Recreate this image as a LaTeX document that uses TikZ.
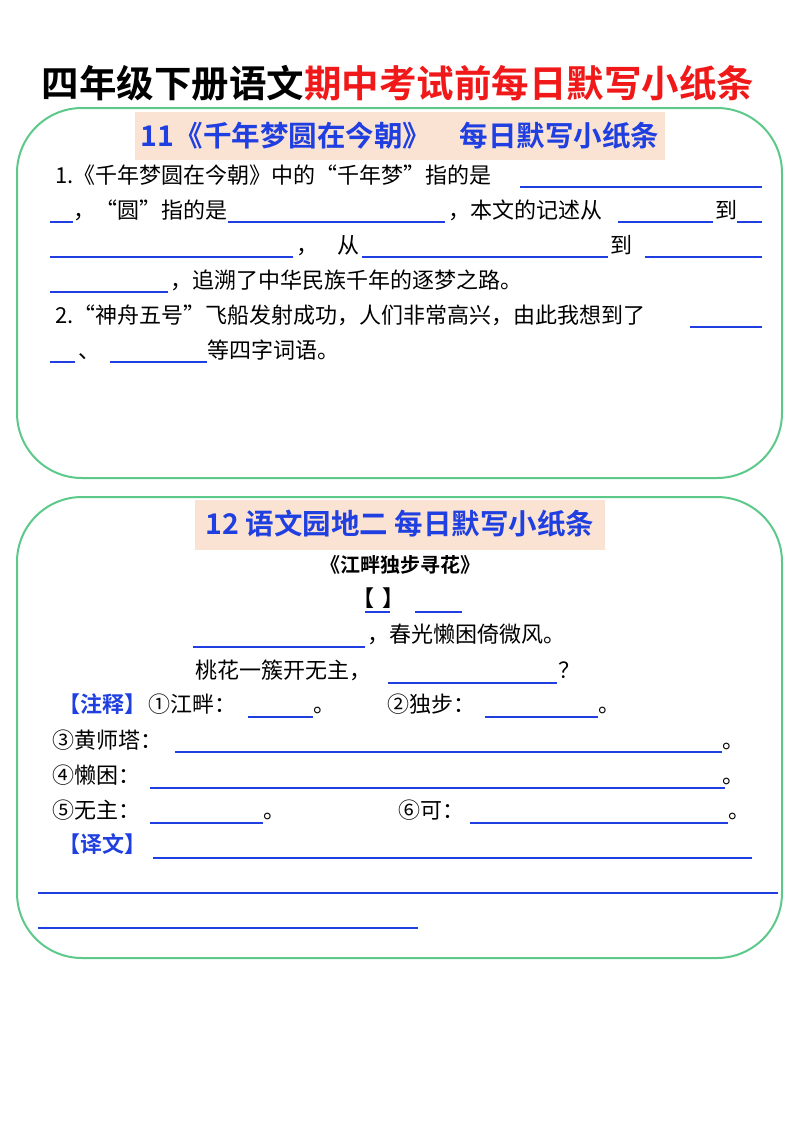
\documentclass[tikz,border=0pt]{standalone}
\usepackage{fontspec}
\setmainfont{Noto Sans CJK SC}[BoldFont={Noto Sans CJK SC Bold}]
\definecolor{bl}{HTML}{1F3FE0}
\definecolor{gr}{HTML}{5CC98A}
\definecolor{pe}{HTML}{FBE3D4}
\definecolor{rd}{HTML}{F01818}
\begin{document}
\begin{tikzpicture}[x=1pt,y=-1pt,
  t/.style={anchor=base west,inner sep=0pt,font=\fontsize{22}{22}\selectfont},
  u/.style={draw=bl,line width=1.3pt},
  box/.style={draw=gr,line width=2pt,rounded corners=65pt},
  hd/.style={fill=pe,text=bl,font=\bfseries\fontsize{28.5}{28.5}\selectfont,inner sep=0pt,anchor=center}]
\useasboundingbox (0,0) rectangle (800,1132);
\node[anchor=base,inner sep=0pt,font=\bfseries\fontsize{37.5}{37.5}\selectfont] (title) at (398,97) {四年级下册语文\textcolor{rd}{期中考试前每日默写小纸条}};
% box 1
\draw[box] (17,108) rectangle (782,478);
\fill[pe] (135,112) rectangle (665,160);
\node[hd] (h1) at (400,136) {11《千年梦圆在今朝》\quad 每日默写小纸条};
\node[t] (a1) at (55,183) {1.《千年梦圆在今朝》中的“千年梦”指的是};
\draw[u] (520,187)--(762,187);
\draw[u] (50,222)--(73,222);
\node[t] (a2) at (73,218) {，“圆”指的是};
\draw[u] (228,222)--(445,222);
\node[t] (a3) at (448,218) {，本文的记述从};
\draw[u] (618,222)--(713,222);
\node[t] (a4) at (715,218) {到};
\draw[u] (737,222)--(762,222);
\draw[u] (50,257)--(293,257);
\node[t] (a5) at (296,253) {，};
\node[t] (a6) at (337,253) {从};
\draw[u] (362,257)--(608,257);
\node[t] (a7) at (610,253) {到};
\draw[u] (645,257)--(762,257);
\draw[u] (50,292)--(168,292);
\node[t] (a8) at (170,288) {，追溯了中华民族千年的逐梦之路。};
\node[t] (a9) at (55,323) {2.“神舟五号”飞船发射成功，人们非常高兴，由此我想到了};
\draw[u] (690,327)--(762,327);
\draw[u] (50,362)--(75,362);
\node[t] (a10) at (78,358) {、};
\draw[u] (110,362)--(207,362);
\node[t] (a11) at (207,358) {等四字词语。};
% box 2
\draw[box] (17,497) rectangle (782,958);
\fill[pe] (195,500) rectangle (605,550);
\node[hd] (h2) at (400,524) {12 语文园地二 每日默写小纸条};
\node[anchor=base,inner sep=0pt,font=\bfseries\fontsize{20}{20}\selectfont] (b0) at (400,572) {《江畔独步寻花》};
\node[t,font=\bfseries\fontsize{22}{22}\selectfont] (b1) at (352,606) {【\ \,】};
\draw[u] (365,612)--(390,612);
\draw[u] (415,612)--(462,612);
\draw[u] (193,647)--(365,647);
\node[t] (b2) at (367,642) {，春光懒困倚微风。};
\node[t] (b3) at (195,678) {桃花一簇开无主，};
\draw[u] (388,683)--(557,683);
\node[t] (b4) at (558,678) {？};
\node[t,text=bl,font=\bfseries\fontsize{22}{22}\selectfont] (b5) at (58,712) {【注释】};
\node[t] (b6) at (148,712) {①江畔：};
\draw[u] (248,717)--(313,717);
\node[t] (b7) at (313,712) {。};
\node[t] (b8) at (387,712) {②独步：};
\draw[u] (485,717)--(598,717);
\node[t] (b9) at (598,712) {。};
\node[t] (b10) at (52,748) {③黄师塔：};
\draw[u] (175,752)--(722,752);
\node[t] (b11) at (722,748) {。};
\node[t] (b12) at (52,783) {④懒困：};
\draw[u] (150,788)--(725,788);
\node[t] (b13) at (722,783) {。};
\node[t] (b14) at (52,818) {⑤无主：};
\draw[u] (150,823)--(263,823);
\node[t] (b15) at (263,818) {。};
\node[t] (b16) at (398,818) {⑥可：};
\draw[u] (470,823)--(728,823);
\node[t] (b17) at (728,818) {。};
\node[t,text=bl,font=\bfseries\fontsize{22}{22}\selectfont] (b18) at (58,852) {【译文】};
\draw[u] (153,858)--(752,858);
\draw[u] (38,893)--(778,893);
\draw[u] (38,928)--(418,928);
\end{tikzpicture}
\end{document}
